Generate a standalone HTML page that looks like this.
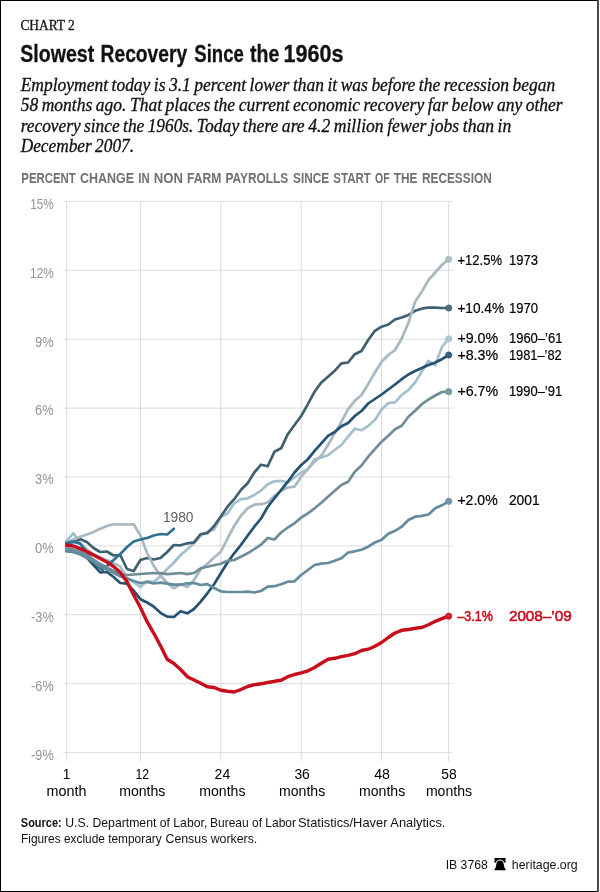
<!DOCTYPE html>
<html lang="en">
<head>
<meta charset="utf-8">
<title>Slowest Recovery Since the 1960s</title>
<style>
html,body{margin:0;padding:0;background:#fff;}
body{width:600px;height:892px;overflow:hidden;}
svg{display:block;}
text{white-space:pre;}
.sans{font-family:"Liberation Sans",sans-serif;}
.serif{font-family:"Liberation Serif",serif;}
</style>
</head>
<body>
<svg width="600" height="892" viewBox="0 0 600 892">
<rect x="0" y="0" width="600" height="892" fill="#fff"/>
<g id="frame">
<rect x="0" y="0" width="599" height="1" fill="#000"/>
<rect x="0" y="0" width="1" height="892" fill="#000"/>
<rect x="0" y="891" width="599" height="1" fill="#000"/>
<rect x="597" y="0" width="2" height="892" fill="#4a4a4a"/>
</g>
<g id="header">
<text class="serif" x="20.4" y="30.4" font-size="14" fill="#1a1a1a" textLength="54.4" lengthAdjust="spacingAndGlyphs" stroke="#1a1a1a" stroke-width="0.35">CHART 2</text>
<text class="sans" y="61.8" font-size="23.5" font-weight="bold" fill="#111" stroke="#111" stroke-width="0.3"><tspan x="20.3" textLength="73.9" lengthAdjust="spacingAndGlyphs">Slowest</tspan> <tspan x="100.6" textLength="86.6" lengthAdjust="spacingAndGlyphs">Recovery</tspan> <tspan x="194.3" textLength="49.5" lengthAdjust="spacingAndGlyphs">Since</tspan> <tspan x="250" textLength="29.3" lengthAdjust="spacingAndGlyphs">the</tspan> <tspan x="283.6" textLength="60.0" lengthAdjust="spacingAndGlyphs">1960s</tspan></text>
<text class="serif" x="20.7" y="91.3" font-size="18" fill="#111" font-style="italic" textLength="534.6" lengthAdjust="spacingAndGlyphs" word-spacing="-0.9" stroke="#111" stroke-width="0.3">Employment today is 3.1 percent lower than it was before the recession began</text>
<text class="serif" x="20.7" y="111.4" font-size="18" fill="#111" font-style="italic" textLength="542.0" lengthAdjust="spacingAndGlyphs" word-spacing="-0.9" stroke="#111" stroke-width="0.3">58 months ago. That places the current economic recovery far below any other</text>
<text class="serif" y="131.5" font-size="18" fill="#111" font-style="italic" word-spacing="-0.9" stroke="#111" stroke-width="0.3"><tspan x="20.7" textLength="172.7" lengthAdjust="spacingAndGlyphs">recovery since the 1960s.</tspan> <tspan x="196.8" textLength="314.5" lengthAdjust="spacingAndGlyphs">Today there are 4.2 million fewer jobs than in</tspan></text>
<text class="serif" x="20.7" y="151.6" font-size="18" fill="#111" font-style="italic" textLength="113.3" lengthAdjust="spacingAndGlyphs" word-spacing="-0.9" stroke="#111" stroke-width="0.3">December 2007.</text>
<text class="sans" y="182.7" font-size="14.3" fill="#707070" font-weight="bold"><tspan x="21.3" textLength="54.5" lengthAdjust="spacingAndGlyphs">PERCENT</tspan> <tspan x="80" textLength="54.2" lengthAdjust="spacingAndGlyphs">CHANGE</tspan> <tspan x="138.3" textLength="11.3" lengthAdjust="spacingAndGlyphs">IN</tspan> <tspan x="153.8" textLength="29.2" lengthAdjust="spacingAndGlyphs">NON</tspan> <tspan x="187" textLength="34.3" lengthAdjust="spacingAndGlyphs">FARM</tspan> <tspan x="225.4" textLength="62.9" lengthAdjust="spacingAndGlyphs">PAYROLLS</tspan> <tspan x="293" textLength="36.2" lengthAdjust="spacingAndGlyphs">SINCE</tspan> <tspan x="333.3" textLength="37.5" lengthAdjust="spacingAndGlyphs">START</tspan> <tspan x="375" textLength="14.6" lengthAdjust="spacingAndGlyphs">OF</tspan> <tspan x="393.8" textLength="23.7" lengthAdjust="spacingAndGlyphs">THE</tspan> <tspan x="422" textLength="69.7" lengthAdjust="spacingAndGlyphs">RECESSION</tspan></text>
</g>
<g id="grid" stroke="#dbdbdb" stroke-width="1" fill="none" shape-rendering="auto">
<line x1="63.3" y1="201.4" x2="452.5" y2="201.4"/>
<line x1="63.3" y1="270.3" x2="452.5" y2="270.3"/>
<line x1="63.3" y1="339.2" x2="452.5" y2="339.2"/>
<line x1="63.3" y1="408.1" x2="452.5" y2="408.1"/>
<line x1="63.3" y1="477.0" x2="452.5" y2="477.0"/>
<line x1="63.3" y1="545.9" x2="452.5" y2="545.9"/>
<line x1="63.3" y1="614.8" x2="452.5" y2="614.8"/>
<line x1="63.3" y1="683.7" x2="452.5" y2="683.7"/>
<line x1="63.3" y1="752.6" x2="452.5" y2="752.6"/>
<line x1="66.7" y1="201.4" x2="66.7" y2="761"/>
<line x1="140.4" y1="201.4" x2="140.4" y2="761"/>
<line x1="220.8" y1="201.4" x2="220.8" y2="761"/>
<line x1="301.2" y1="201.4" x2="301.2" y2="761"/>
<line x1="381.6" y1="201.4" x2="381.6" y2="761"/>
<line x1="448.6" y1="201.4" x2="448.6" y2="761"/>
</g>
<g id="ylabels">
<text class="sans" x="30.2" y="208.7" font-size="14" fill="#939393" textLength="23.5" lengthAdjust="spacingAndGlyphs">15%</text>
<text class="sans" x="30.1" y="277.6" font-size="14" fill="#939393" textLength="23.6" lengthAdjust="spacingAndGlyphs">12%</text>
<text class="sans" x="35.1" y="346.5" font-size="14" fill="#939393" textLength="18.6" lengthAdjust="spacingAndGlyphs">9%</text>
<text class="sans" x="35.1" y="415.4" font-size="14" fill="#939393" textLength="18.6" lengthAdjust="spacingAndGlyphs">6%</text>
<text class="sans" x="35.1" y="484.3" font-size="14" fill="#939393" textLength="18.6" lengthAdjust="spacingAndGlyphs">3%</text>
<text class="sans" x="34.9" y="553.2" font-size="14" fill="#939393" textLength="18.8" lengthAdjust="spacingAndGlyphs">0%</text>
<text class="sans" x="31.1" y="622.1" font-size="14" fill="#939393" textLength="22.6" lengthAdjust="spacingAndGlyphs">-3%</text>
<text class="sans" x="31.1" y="691.0" font-size="14" fill="#939393" textLength="22.6" lengthAdjust="spacingAndGlyphs">-6%</text>
<text class="sans" x="31.1" y="759.9" font-size="14" fill="#939393" textLength="22.6" lengthAdjust="spacingAndGlyphs">-9%</text>
</g>
<g id="xlabels">
<text class="sans" x="62.7" y="779.3" font-size="14.5" fill="#000" textLength="7.6" lengthAdjust="spacingAndGlyphs">1</text>
<text class="sans" x="46.5" y="795.5" font-size="14.5" fill="#000" textLength="40" lengthAdjust="spacingAndGlyphs">month</text>
<text class="sans" x="135.5" y="779.3" font-size="14.5" fill="#000" textLength="13.6" lengthAdjust="spacingAndGlyphs">12</text>
<text class="sans" x="119.2" y="795.5" font-size="14.5" fill="#000" textLength="46.2" lengthAdjust="spacingAndGlyphs">months</text>
<text class="sans" x="214.6" y="779.3" font-size="14.5" fill="#000" textLength="15.6" lengthAdjust="spacingAndGlyphs">24</text>
<text class="sans" x="199.3" y="795.5" font-size="14.5" fill="#000" textLength="46.2" lengthAdjust="spacingAndGlyphs">months</text>
<text class="sans" x="294.4" y="779.3" font-size="14.5" fill="#000" textLength="15.4" lengthAdjust="spacingAndGlyphs">36</text>
<text class="sans" x="279.0" y="795.5" font-size="14.5" fill="#000" textLength="46.2" lengthAdjust="spacingAndGlyphs">months</text>
<text class="sans" x="374.2" y="779.3" font-size="14.5" fill="#000" textLength="15.8" lengthAdjust="spacingAndGlyphs">48</text>
<text class="sans" x="359.0" y="795.5" font-size="14.5" fill="#000" textLength="46.2" lengthAdjust="spacingAndGlyphs">months</text>
<text class="sans" x="441.3" y="779.3" font-size="14.5" fill="#000" textLength="15.4" lengthAdjust="spacingAndGlyphs">58</text>
<text class="sans" x="425.9" y="795.5" font-size="14.5" fill="#000" textLength="46.2" lengthAdjust="spacingAndGlyphs">months</text>
</g>
<g id="series" fill="none" stroke-linejoin="round" stroke-linecap="butt">
<polyline id="s1960" stroke="#a4c0cd" stroke-width="2.7" points="65.2,542.5 73.4,533.2 80.1,543.0 86.8,549.5 93.5,554.0 100.2,557.5 106.9,560.0 113.6,563.0 120.3,566.5 127.0,578.0 133.7,582.0 140.4,587.0 147.1,581.0 153.8,582.0 160.5,576.0 167.2,569.0 173.9,562.5 180.6,555.0 187.3,549.2 194.0,543.3 200.7,535.8 207.4,531.7 214.1,529.5 220.8,517.0 227.5,513.3 234.2,503.3 240.9,499.2 247.6,498.3 254.3,495.0 261.0,490.5 267.7,484.2 274.4,481.3 281.1,480.8 287.8,482.5 294.5,477.5 301.2,472.5 307.9,469.2 314.6,459.2 321.3,457.5 328.0,455.3 334.7,450.0 341.4,445.0 348.1,436.7 354.8,428.7 361.5,430.3 368.2,425.8 374.9,420.0 381.6,409.5 388.3,403.0 395.0,402.3 401.7,395.0 408.4,390.0 415.1,382.5 421.8,371.5 428.5,360.8 435.2,365.4 441.9,347.0 448.6,338.8"/>
<circle cx="448.7" cy="338.8" r="3.1" fill="#adc6d2" stroke="#a4c0cd" stroke-width="0.8"/>
<polyline id="s1970" stroke="#406070" stroke-width="2.7" points="65.2,543.5 73.4,542.0 80.1,539.0 86.8,542.0 93.5,548.0 100.2,552.0 106.9,551.5 113.6,555.5 120.3,555.0 127.0,569.0 133.7,571.0 140.4,560.0 147.1,558.0 153.8,559.5 160.5,558.0 167.2,552.0 173.9,545.0 180.6,545.3 187.3,543.3 194.0,542.4 200.7,534.0 207.4,533.2 214.1,526.0 220.8,516.5 227.5,506.7 234.2,499.2 240.9,490.0 247.6,483.3 254.3,472.5 261.0,464.7 267.7,466.3 274.4,451.7 281.1,448.3 287.8,434.2 294.5,425.0 301.2,416.0 307.9,404.2 314.6,391.7 321.3,382.5 328.0,376.7 334.7,370.8 341.4,363.3 348.1,362.5 354.8,354.2 361.5,351.0 368.2,340.0 374.9,330.8 381.6,326.7 388.3,324.5 395.0,319.5 401.7,317.5 408.4,315.0 415.1,310.8 421.8,308.7 428.5,307.5 435.2,307.7 441.9,308.0 448.6,308.0"/>
<circle cx="448.7" cy="308.0" r="3.1" fill="#53707e" stroke="#406070" stroke-width="0.8"/>
<polyline id="s1973" stroke="#a9b7c0" stroke-width="2.7" points="65.2,542.0 73.4,539.8 80.1,536.7 86.8,534.5 93.5,532.0 100.2,528.7 106.9,526.0 113.6,524.3 120.3,524.5 127.0,524.5 133.7,524.3 140.4,535.5 147.1,553.0 153.8,566.0 160.5,575.5 167.2,583.0 173.9,588.3 180.6,584.2 187.3,587.0 194.0,580.0 200.7,569.2 207.4,563.7 214.1,557.5 220.8,551.7 227.5,538.5 234.2,526.0 240.9,515.8 247.6,508.3 254.3,504.7 261.0,504.2 267.7,502.5 274.4,495.8 281.1,490.8 287.8,487.5 294.5,486.7 301.2,476.7 307.9,469.2 314.6,461.7 321.3,455.8 328.0,445.0 334.7,433.3 341.4,421.7 348.1,409.2 354.8,400.8 361.5,395.0 368.2,384.2 374.9,372.5 381.6,361.7 388.3,355.0 395.0,350.0 401.7,338.5 408.4,323.0 415.1,301.7 421.8,291.7 428.5,280.0 435.2,272.5 441.9,265.0 448.6,259.3"/>
<circle cx="448.7" cy="259.3" r="3.1" fill="#b2bec6" stroke="#a9b7c0" stroke-width="0.8"/>
<polyline id="s1980" stroke="#2e7293" stroke-width="2.7" points="65.2,543.2 73.4,541.6 80.1,543.6 86.8,552.0 93.5,562.5 102.5,570.0 106.9,566.0 113.6,560.0 120.3,554.0 127.0,547.0 133.7,541.5 140.4,539.5 147.1,538.0 153.8,535.5 160.5,534.0 167.2,534.5 173.9,528.8"/>
<circle cx="173.9" cy="528.8" r="1.35" fill="#2e7293" stroke="none"/>
<polyline id="s1981" stroke="#245272" stroke-width="2.7" points="65.2,550.8 73.4,552.0 80.1,554.0 86.8,557.7 93.5,565.0 100.2,572.3 106.9,572.0 113.6,577.0 120.3,583.0 127.0,583.7 133.7,590.8 140.4,599.2 147.1,602.5 153.8,606.7 160.5,612.8 167.2,616.7 173.9,617.0 180.6,611.3 187.3,613.3 194.0,609.0 200.7,601.7 207.4,593.3 214.1,584.2 220.8,573.3 227.5,562.5 234.2,553.3 240.9,545.0 247.6,535.8 254.3,526.7 261.0,518.5 267.7,507.0 274.4,498.3 281.1,490.0 287.8,481.7 294.5,472.5 301.2,465.0 307.9,459.2 314.6,450.8 321.3,443.3 328.0,435.8 334.7,432.0 341.4,426.3 348.1,423.0 354.8,416.0 361.5,411.0 368.2,403.5 374.9,399.0 381.6,394.5 388.3,389.5 395.0,384.5 401.7,379.2 408.4,374.5 415.1,371.0 421.8,368.0 428.5,365.0 435.2,362.5 441.9,359.2 448.6,355.0"/>
<circle cx="448.7" cy="355.0" r="3.1" fill="#3a6380" stroke="#245272" stroke-width="0.8"/>
<polyline id="s1990" stroke="#718b98" stroke-width="2.7" points="65.2,548.0 73.4,549.3 80.1,551.3 86.8,555.0 93.5,559.5 100.2,564.0 106.9,567.5 113.6,571.0 120.3,574.0 127.0,575.0 133.7,574.5 140.4,574.0 147.1,573.5 153.8,573.0 160.5,573.2 167.2,574.2 173.9,573.7 180.6,573.0 187.3,574.2 194.0,573.0 200.7,568.3 207.4,566.7 214.1,565.3 220.8,563.7 227.5,560.8 234.2,560.0 240.9,556.7 247.6,553.3 254.3,549.2 261.0,544.7 267.7,538.0 274.4,539.5 281.1,532.5 287.8,527.5 294.5,523.3 301.2,517.5 307.9,513.3 314.6,508.3 321.3,502.8 328.0,496.7 334.7,490.8 341.4,485.0 348.1,481.7 354.8,471.7 361.5,465.5 368.2,456.7 374.9,449.2 381.6,441.7 388.3,435.8 395.0,429.2 401.7,425.8 408.4,416.7 415.1,410.8 421.8,404.2 428.5,399.5 435.2,395.5 441.9,392.0 448.6,391.7"/>
<circle cx="448.7" cy="391.7" r="3.1" fill="#7f97a2" stroke="#718b98" stroke-width="0.8"/>
<polyline id="s2001" stroke="#648c9d" stroke-width="2.7" points="65.2,550.3 73.4,552.0 80.1,554.3 86.8,557.5 93.5,562.0 100.2,566.3 106.9,569.5 113.6,573.0 120.3,576.3 127.0,578.5 133.7,581.0 140.4,583.0 147.1,582.0 153.8,583.5 160.5,582.7 167.2,583.7 173.9,584.7 180.6,584.7 187.3,583.3 194.0,583.0 200.7,585.0 207.4,584.2 214.1,588.0 220.8,591.3 227.5,592.0 234.2,592.0 240.9,592.0 247.6,591.7 254.3,592.5 261.0,591.0 267.7,586.7 274.4,586.2 281.1,584.2 287.8,581.7 294.5,581.3 301.2,575.0 307.9,570.0 314.6,565.0 321.3,563.7 328.0,563.0 334.7,560.8 341.4,558.3 348.1,552.5 354.8,551.3 361.5,549.7 368.2,546.7 374.9,542.5 381.6,539.7 388.3,533.7 395.0,530.8 401.7,526.7 408.4,520.0 415.1,516.7 421.8,515.8 428.5,514.5 435.2,508.3 441.9,505.3 448.6,501.3"/>
<circle cx="448.7" cy="501.3" r="3.1" fill="#7498a7" stroke="#648c9d" stroke-width="0.8"/>
<polyline id="s2008" stroke="#c80d1b" stroke-width="3.4" points="65.2,545.0 73.4,546.0 80.1,548.5 86.8,551.5 93.5,555.0 100.2,558.5 106.9,562.0 113.6,566.5 120.3,572.5 127.0,581.7 133.7,595.0 140.4,607.5 147.1,621.7 153.8,633.3 160.5,645.8 167.2,659.2 173.9,663.5 180.6,669.5 187.3,676.7 194.0,680.0 200.7,683.3 207.4,686.7 214.1,687.5 220.8,690.3 227.5,691.3 234.2,692.0 240.9,689.5 247.6,686.5 254.3,684.7 261.0,683.8 267.7,682.5 274.4,681.3 281.1,680.3 287.8,676.7 294.5,674.5 301.2,672.8 307.9,670.8 314.6,667.5 321.3,663.3 328.0,659.2 334.7,658.3 341.4,656.7 348.1,655.3 354.8,653.7 361.5,650.5 368.2,649.2 374.9,646.3 381.6,642.5 388.3,637.5 395.0,633.0 401.7,630.3 408.4,629.5 415.1,628.3 421.8,627.5 428.5,624.7 435.2,621.3 441.9,618.7 448.6,616.2"/>
<circle cx="448.7" cy="616.2" r="3.1" fill="#ce2532" stroke="#c80d1b" stroke-width="0.8"/>
</g>
<g id="labels">
<text class="sans" x="457.4" y="264.6" font-size="14.8" fill="#000" textLength="44.699999999999996" lengthAdjust="spacingAndGlyphs" stroke="#000" stroke-width="0.2">+12.5%</text>
<text class="sans" x="508.9" y="264.6" font-size="14.8" fill="#000" textLength="29.0" lengthAdjust="spacingAndGlyphs" stroke="#000" stroke-width="0.2">1973</text>
<text class="sans" x="457.4" y="313.0" font-size="14.8" fill="#000" textLength="46.699999999999996" lengthAdjust="spacingAndGlyphs" stroke="#000" stroke-width="0.2">+10.4%</text>
<text class="sans" x="508.9" y="313.0" font-size="14.8" fill="#000" textLength="29.200000000000003" lengthAdjust="spacingAndGlyphs" stroke="#000" stroke-width="0.2">1970</text>
<text class="sans" x="457.4" y="342.9" font-size="14.8" fill="#000" textLength="40.699999999999996" lengthAdjust="spacingAndGlyphs" stroke="#000" stroke-width="0.2">+9.0%</text>
<text class="sans" x="508.9" y="342.9" font-size="14.8" fill="#000" textLength="53.6" lengthAdjust="spacingAndGlyphs" stroke="#000" stroke-width="0.2">1960–’61</text>
<text class="sans" x="457.4" y="360.3" font-size="14.8" fill="#000" textLength="40.699999999999996" lengthAdjust="spacingAndGlyphs" stroke="#000" stroke-width="0.2">+8.3%</text>
<text class="sans" x="508.9" y="360.3" font-size="14.8" fill="#000" textLength="52.800000000000004" lengthAdjust="spacingAndGlyphs" stroke="#000" stroke-width="0.2">1981–’82</text>
<text class="sans" x="457.4" y="396.4" font-size="14.8" fill="#000" textLength="40.699999999999996" lengthAdjust="spacingAndGlyphs" stroke="#000" stroke-width="0.2">+6.7%</text>
<text class="sans" x="508.9" y="396.4" font-size="14.8" fill="#000" textLength="53.2" lengthAdjust="spacingAndGlyphs" stroke="#000" stroke-width="0.2">1990–’91</text>
<text class="sans" x="457.4" y="505.4" font-size="14.8" fill="#000" textLength="40.3" lengthAdjust="spacingAndGlyphs" stroke="#000" stroke-width="0.2">+2.0%</text>
<text class="sans" x="508.9" y="505.4" font-size="14.8" fill="#000" textLength="30.8" lengthAdjust="spacingAndGlyphs" stroke="#000" stroke-width="0.2">2001</text>
<text class="sans" x="457.4" y="621.0" font-size="14.8" fill="#c80d1b" textLength="35.5" lengthAdjust="spacingAndGlyphs" stroke="#c80d1b" stroke-width="0.55">–3.1%</text>
<text class="sans" x="508.9" y="621.0" font-size="14.8" fill="#c80d1b" textLength="62.800000000000004" lengthAdjust="spacingAndGlyphs" stroke="#c80d1b" stroke-width="0.55">2008–’09</text>
<text class="sans" x="162.9" y="522.2" font-size="14" fill="#606060" textLength="30.6" lengthAdjust="spacingAndGlyphs">1980</text>
</g>
<g id="footer">
<text class="sans" y="827.2" font-size="12.7" fill="#111"><tspan x="20.8" textLength="41.0" lengthAdjust="spacingAndGlyphs" font-weight="bold">Source:</tspan> <tspan x="65.3" textLength="142.0" lengthAdjust="spacingAndGlyphs">U.S. Department of Labor,</tspan> <tspan x="210" textLength="86" lengthAdjust="spacingAndGlyphs">Bureau of Labor</tspan> <tspan x="298" textLength="147.4" lengthAdjust="spacingAndGlyphs">Statistics/Haver Analytics.</tspan></text>
<text class="sans" y="842.8" font-size="12.7" fill="#111"><tspan x="21" textLength="140.7" lengthAdjust="spacingAndGlyphs">Figures exclude temporary</tspan> <tspan x="165.5" textLength="91.8" lengthAdjust="spacingAndGlyphs">Census workers.</tspan></text>
<text class="sans" x="445.7" y="869.4" font-size="13" fill="#111" textLength="42.1" lengthAdjust="spacingAndGlyphs">IB 3768</text>
<text class="sans" x="511.8" y="869.4" font-size="13" fill="#111" textLength="65.9" lengthAdjust="spacingAndGlyphs">heritage.org</text>
<g transform="translate(500.05 864.1) scale(1.03 1.07) translate(-500.05 -864.15)">
<path d="M494.7,858.5H505.4V863H504.3C503.6,861.3 502,859.9 500.05,859.9C498.1,859.9 496.5,861.3 495.8,863H494.7Z" fill="#000"/>
<path d="M500.05,860.7C502.2,860.7 503.4,862.3 503.7,864.3C503.95,866.2 504.3,868 505.4,869V869.8H494.7V869C495.8,868 496.15,866.2 496.4,864.3C496.7,862.3 497.9,860.7 500.05,860.7Z" fill="#000"/>
</g>
</g>
</svg>
</body>
</html>
